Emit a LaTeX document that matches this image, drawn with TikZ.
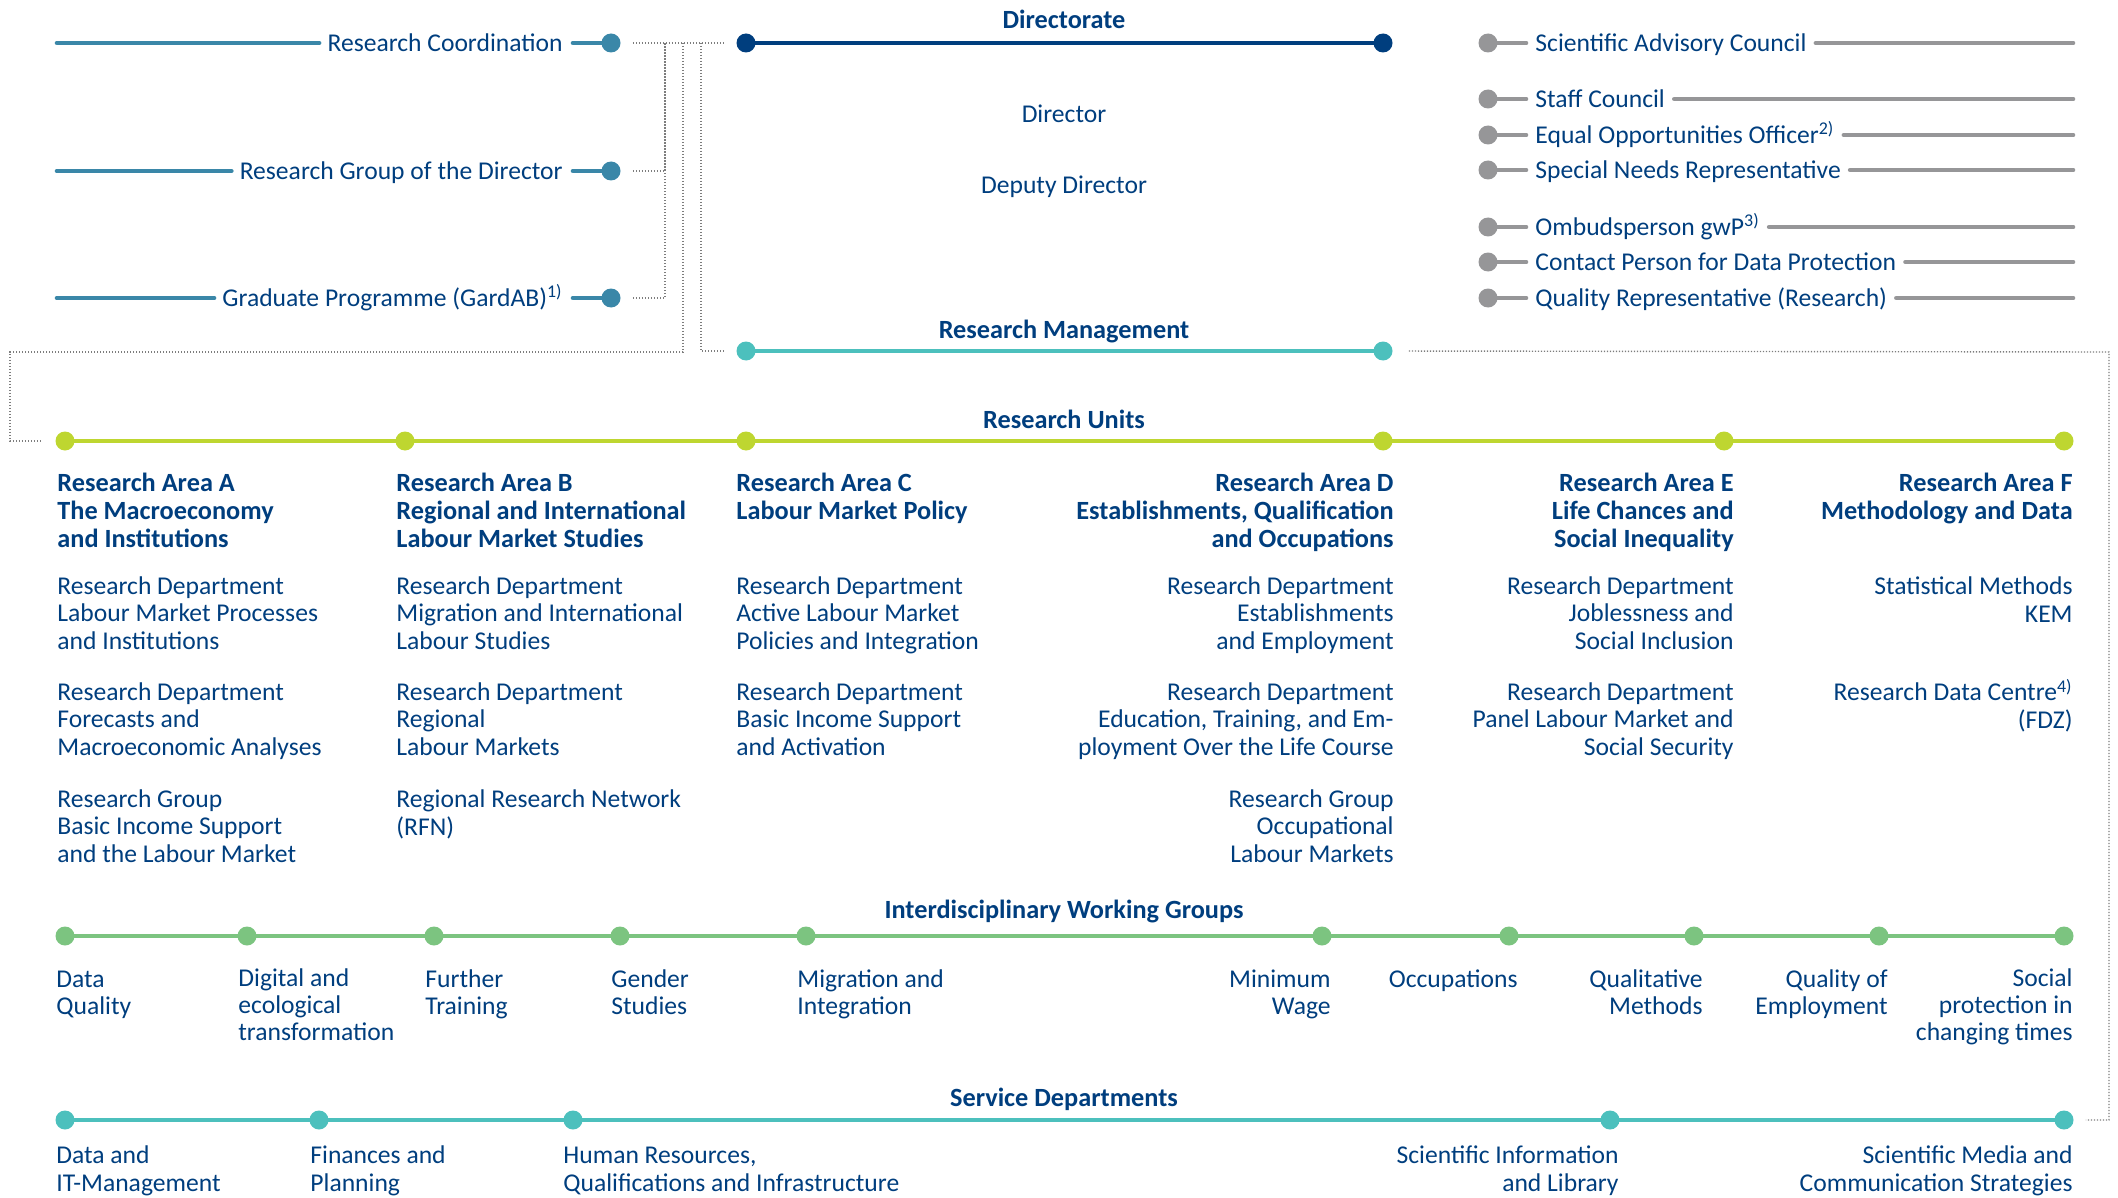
\documentclass[tikz,border=0pt]{standalone}
\usepackage{fontspec}
\setmainfont{Carlito}
\usetikzlibrary{positioning}
\definecolor{iabnavy}{RGB}{0,62,126}
\definecolor{iabsteel}{RGB}{58,135,168}
\definecolor{iabgray}{RGB}{150,150,152}
\definecolor{iabteal}{RGB}{76,192,189}
\definecolor{iablime}{RGB}{190,214,48}
\definecolor{iabgreen}{RGB}{124,196,128}
\definecolor{iabdots}{RGB}{125,125,125}
\tikzset{
  lbl/.style={font=\fontsize{12.8}{13.6}\selectfont, text=iabnavy, inner sep=0pt},
  hd/.style={lbl, font=\fontsize{13.15}{13.9}\selectfont\bfseries},
  wglbl/.style={lbl, font=\fontsize{12.8}{13.3}\selectfont},
  rowlbl/.style={lbl, text height=10pt, text depth=1.5pt},
  pin/.style={circle, fill=#1, inner sep=0pt, minimum size=9.5pt},
  bar/.style={line width=2.3pt, draw=#1},
  dotline/.style={draw=iabdots, line width=0.7pt, line cap=butt, dash pattern=on 0.6pt off 0.9pt},
}

\begin{document}
\begin{tikzpicture}[x=0.5pt, y=-0.5pt, line cap=round]
    \useasboundingbox (0,0) rectangle (2118,1198);

    % Directorate
    \node[pin=iabnavy] (dirL) at (746,43) {};
    \node[pin=iabnavy] (dirR) at (1383,43) {};
    \draw[bar=iabnavy] (dirL) -- (dirR);
    \node[hd, anchor=base] (dirT) at (1064,29) {Directorate};
    \node[lbl, anchor=base] (dir) at (1064,123) {Director};
    \node[lbl, anchor=base] (depdir) at (1064,194) {Deputy Director};

    % staff units, left
    \node[rowlbl, anchor=east] (coord) at (563,43) {Research Coordination};
    \node[pin=iabsteel] (coordP) at (611,43) {};
    \coordinate (coordE) at (57,43);
    \draw[bar=iabsteel, shorten >=4pt] (coordE) -- (coord.west);
    \draw[bar=iabsteel, shorten <=5pt] (coord.east) -- (coordP);

    \node[rowlbl, anchor=east] (rgd) at (563,171) {Research Group of the Director};
    \node[pin=iabsteel] (rgdP) at (611,171) {};
    \coordinate (rgdE) at (57,171);
    \draw[bar=iabsteel, shorten >=4pt] (rgdE) -- (rgd.west);
    \draw[bar=iabsteel, shorten <=5pt] (rgd.east) -- (rgdP);

    \node[rowlbl, anchor=east] (grad) at (563,298) {Graduate Programme (GardAB)\textsuperscript{1)}};
    \node[pin=iabsteel] (gradP) at (611,298) {};
    \coordinate (gradE) at (57,298);
    \draw[bar=iabsteel, shorten >=4pt] (gradE) -- (grad.west);
    \draw[bar=iabsteel, shorten <=5pt] (grad.east) -- (gradP);

    % staff units, right
    \node[pin=iabgray] (sacP) at (1488,43) {};
    \node[rowlbl, anchor=west] (sac) at (1535,43) {Scientific Advisory Council};
    \coordinate (sacE) at (2073,43);
    \draw[bar=iabgray, shorten >=4.5pt] (sacP) -- (sac.west);
    \draw[bar=iabgray, shorten <=4.5pt] (sac.east) -- (sacE);

    \node[pin=iabgray] (stcP) at (1488,99) {};
    \node[rowlbl, anchor=west] (stc) at (1535,99) {Staff Council};
    \coordinate (stcE) at (2073,99);
    \draw[bar=iabgray, shorten >=4.5pt] (stcP) -- (stc.west);
    \draw[bar=iabgray, shorten <=4.5pt] (stc.east) -- (stcE);

    \node[pin=iabgray] (eqoP) at (1488,135) {};
    \node[rowlbl, anchor=west] (eqo) at (1535,135) {Equal Opportunities Officer\textsuperscript{2)}};
    \coordinate (eqoE) at (2073,135);
    \draw[bar=iabgray, shorten >=4.5pt] (eqoP) -- (eqo.west);
    \draw[bar=iabgray, shorten <=4.5pt] (eqo.east) -- (eqoE);

    \node[pin=iabgray] (snrP) at (1488,170) {};
    \node[rowlbl, anchor=west] (snr) at (1535,170) {Special Needs Representative};
    \coordinate (snrE) at (2073,170);
    \draw[bar=iabgray, shorten >=4.5pt] (snrP) -- (snr.west);
    \draw[bar=iabgray, shorten <=4.5pt] (snr.east) -- (snrE);

    \node[pin=iabgray] (ombP) at (1488,227) {};
    \node[rowlbl, anchor=west] (omb) at (1535,227) {Ombudsperson gwP\textsuperscript{3)}};
    \coordinate (ombE) at (2073,227);
    \draw[bar=iabgray, shorten >=4.5pt] (ombP) -- (omb.west);
    \draw[bar=iabgray, shorten <=4.5pt] (omb.east) -- (ombE);

    \node[pin=iabgray] (dpoP) at (1488,262) {};
    \node[rowlbl, anchor=west] (dpo) at (1535,262) {Contact Person for Data Protection};
    \coordinate (dpoE) at (2073,262);
    \draw[bar=iabgray, shorten >=4.5pt] (dpoP) -- (dpo.west);
    \draw[bar=iabgray, shorten <=4.5pt] (dpo.east) -- (dpoE);

    \node[pin=iabgray] (qrrP) at (1488,298) {};
    \node[rowlbl, anchor=west] (qrr) at (1535,298) {Quality Representative (Research)};
    \coordinate (qrrE) at (2073,298);
    \draw[bar=iabgray, shorten >=4.5pt] (qrrP) -- (qrr.west);
    \draw[bar=iabgray, shorten <=4.5pt] (qrr.east) -- (qrrE);

    % Research Management
    \node[pin=iabteal] (rmL) at (746,351) {};
    \node[pin=iabteal] (rmR) at (1383,351) {};
    \draw[bar=iabteal] (rmL) -- (rmR);
    \node[hd, anchor=base] (rmT) at (1064,338) {Research Management};

    % Research Units (base = last line)
    \node[hd, anchor=base] (ruT) at (1064,428) {Research Units};
    \node[pin=iablime] (ruA) at (65,441) {};
    \node[pin=iablime] (ruB) at (405,441) {};
    \node[pin=iablime] (ruC) at (746,441) {};
    \node[pin=iablime] (ruD) at (1383,441) {};
    \node[pin=iablime] (ruE) at (1724,441) {};
    \node[pin=iablime] (ruF) at (2064,441) {};
    \draw[bar=iablime] (ruA) -- (ruB);
    \draw[bar=iablime] (ruB) -- (ruC);
    \draw[bar=iablime] (ruC) -- (ruD);
    \draw[bar=iablime] (ruD) -- (ruE);
    \draw[bar=iablime] (ruE) -- (ruF);

    \node[hd, anchor=base west, align=left] (areaA) at (57,547) {Research Area A\\The Macroeconomy\\and Institutions};
    \node[lbl, anchor=base west, align=left] (areaAone) at (57,649) {Research Department\\Labour Market Processes\\and Institutions};
    \node[lbl, anchor=base west, align=left] (areaAtwo) at (57,755) {Research Department\\Forecasts and\\Macroeconomic Analyses};
    \node[lbl, anchor=base west, align=left] (areaAthree) at (57,862) {Research Group\\Basic Income Support\\and the Labour Market};

    \node[hd, anchor=base west, align=left] (areaB) at (396,547) {Research Area B\\Regional and International\\Labour Market Studies};
    \node[lbl, anchor=base west, align=left] (areaBone) at (396,649) {Research Department\\Migration and International\\Labour Studies};
    \node[lbl, anchor=base west, align=left] (areaBtwo) at (396,755) {Research Department\\Regional\\Labour Markets};
    \node[lbl, anchor=base west, align=left] (areaBthree) at (396,835) {Regional Research Network\\(RFN)};

    \node[hd, anchor=base west, align=left] (areaC) at (736,519) {Research Area C\\Labour Market Policy};
    \node[lbl, anchor=base west, align=left] (areaCone) at (736,649) {Research Department\\Active Labour Market\\Policies and Integration};
    \node[lbl, anchor=base west, align=left] (areaCtwo) at (736,755) {Research Department\\Basic Income Support\\and Activation};

    \node[hd, anchor=base east, align=right] (areaD) at (1394,547) {Research Area D\\Establishments, Qualification\\and Occupations};
    \node[lbl, anchor=base east, align=right] (areaDone) at (1394,649) {Research Department\\Establishments\\and Employment};
    \node[lbl, anchor=base east, align=right] (areaDtwo) at (1394,755) {Research Department\\Education, Training, and Em-\\ployment Over the Life Course};
    \node[lbl, anchor=base east, align=right] (areaDthree) at (1394,862) {Research Group\\Occupational\\Labour Markets};

    \node[hd, anchor=base east, align=right] (areaE) at (1734,547) {Research Area E\\Life Chances and\\Social Inequality};
    \node[lbl, anchor=base east, align=right] (areaEone) at (1734,649) {Research Department\\Joblessness and\\Social Inclusion};
    \node[lbl, anchor=base east, align=right] (areaEtwo) at (1734,755) {Research Department\\Panel Labour Market and\\Social Security};

    \node[hd, anchor=base east, align=right] (areaF) at (2073,519) {Research Area F\\Methodology and Data};
    \node[lbl, anchor=base east, align=right] (areaFone) at (2073,622) {Statistical Methods\\KEM};
    \node[lbl, anchor=base east, align=right] (areaFtwo) at (2073,728) {Research Data Centre\textsuperscript{4)}\\(FDZ)};

    % Interdisciplinary Working Groups
    \node[hd, anchor=base] (wgT) at (1064,918) {Interdisciplinary Working Groups};
    \node[pin=iabgreen] (wg1) at (65,936) {};
    \node[pin=iabgreen] (wg2) at (247,936) {};
    \node[pin=iabgreen] (wg3) at (434,936) {};
    \node[pin=iabgreen] (wg4) at (620,936) {};
    \node[pin=iabgreen] (wg5) at (806,936) {};
    \node[pin=iabgreen] (wg6) at (1322,936) {};
    \node[pin=iabgreen] (wg7) at (1509,936) {};
    \node[pin=iabgreen] (wg8) at (1694,936) {};
    \node[pin=iabgreen] (wg9) at (1879,936) {};
    \node[pin=iabgreen] (wg10) at (2064,936) {};
    \draw[bar=iabgreen] (wg1) -- (wg2);
    \draw[bar=iabgreen] (wg2) -- (wg3);
    \draw[bar=iabgreen] (wg3) -- (wg4);
    \draw[bar=iabgreen] (wg4) -- (wg5);
    \draw[bar=iabgreen] (wg5) -- (wg6);
    \draw[bar=iabgreen] (wg6) -- (wg7);
    \draw[bar=iabgreen] (wg7) -- (wg8);
    \draw[bar=iabgreen] (wg8) -- (wg9);
    \draw[bar=iabgreen] (wg9) -- (wg10);

    \node[wglbl, anchor=base west, align=left] (wgDQ) at (56,1014) {Data\\Quality};
    \node[wglbl, anchor=base west, align=left] (wgDE) at (238,1040) {Digital and\\ecological\\transformation};
    \node[wglbl, anchor=base west, align=left] (wgFT) at (425,1014) {Further\\Training};
    \node[wglbl, anchor=base west, align=left] (wgGS) at (611,1014) {Gender\\Studies};
    \node[wglbl, anchor=base west, align=left] (wgMI) at (797,1014) {Migration and\\Integration};
    \node[wglbl, anchor=base east, align=right] (wgMW) at (1331,1014) {Minimum\\Wage};
    \node[wglbl, anchor=base east, align=right] (wgOC) at (1518,987) {Occupations};
    \node[wglbl, anchor=base east, align=right] (wgQM) at (1703,1014) {Qualitative\\Methods};
    \node[wglbl, anchor=base east, align=right] (wgQE) at (1888,1014) {Quality of\\Employment};
    \node[wglbl, anchor=base east, align=right] (wgSP) at (2073,1040) {Social\\protection in\\changing times};

    % Service Departments
    \node[hd, anchor=base] (sdT) at (1064,1106) {Service Departments};
    \node[pin=iabteal] (sdA) at (65,1120) {};
    \node[pin=iabteal] (sdB) at (319,1120) {};
    \node[pin=iabteal] (sdC) at (573,1120) {};
    \node[pin=iabteal] (sdD) at (1610,1120) {};
    \node[pin=iabteal] (sdE) at (2064,1120) {};
    \draw[bar=iabteal] (sdA) -- (sdB);
    \draw[bar=iabteal] (sdB) -- (sdC);
    \draw[bar=iabteal] (sdC) -- (sdD);
    \draw[bar=iabteal] (sdD) -- (sdE);

    \node[lbl, anchor=base west, align=left] (sdIT) at (56,1191) {Data and\\IT-Management};
    \node[lbl, anchor=base west, align=left] (sdFP) at (310,1191) {Finances and\\Planning};
    \node[lbl, anchor=base west, align=left] (sdHR) at (563,1191) {Human Resources,\\Qualifications and Infrastructure};
    \node[lbl, anchor=base east, align=right] (sdLib) at (1619,1191) {Scientific Information\\and Library};
    \node[lbl, anchor=base east, align=right] (sdMed) at (2073,1191) {Scientific Media and\\Communication Strategies};

    % dotted links
    \coordinate (jA) at (665,43);
    \coordinate (jB) at (683,43);
    \coordinate (jBb) at (10,352);
    \coordinate (jC) at (701,43);
    \coordinate (jD) at (2109,352);
    \draw[dotline, shorten <=6pt, shorten >=5.5pt] (coordP) -- (dirL);
    \draw[dotline, shorten <=6pt] (rgdP) -| (jA);
    \draw[dotline, shorten <=6pt] (gradP) -| (jA);
    \draw[dotline, shorten >=6.5pt] (jB) |- (jBb) |- (ruA);
    \draw[dotline, shorten >=5.5pt] (jC) |- (rmL);
    \draw[dotline, shorten <=8pt, shorten >=6pt] (rmR) -- (jD) |- (sdE);

\end{tikzpicture}
\end{document}
